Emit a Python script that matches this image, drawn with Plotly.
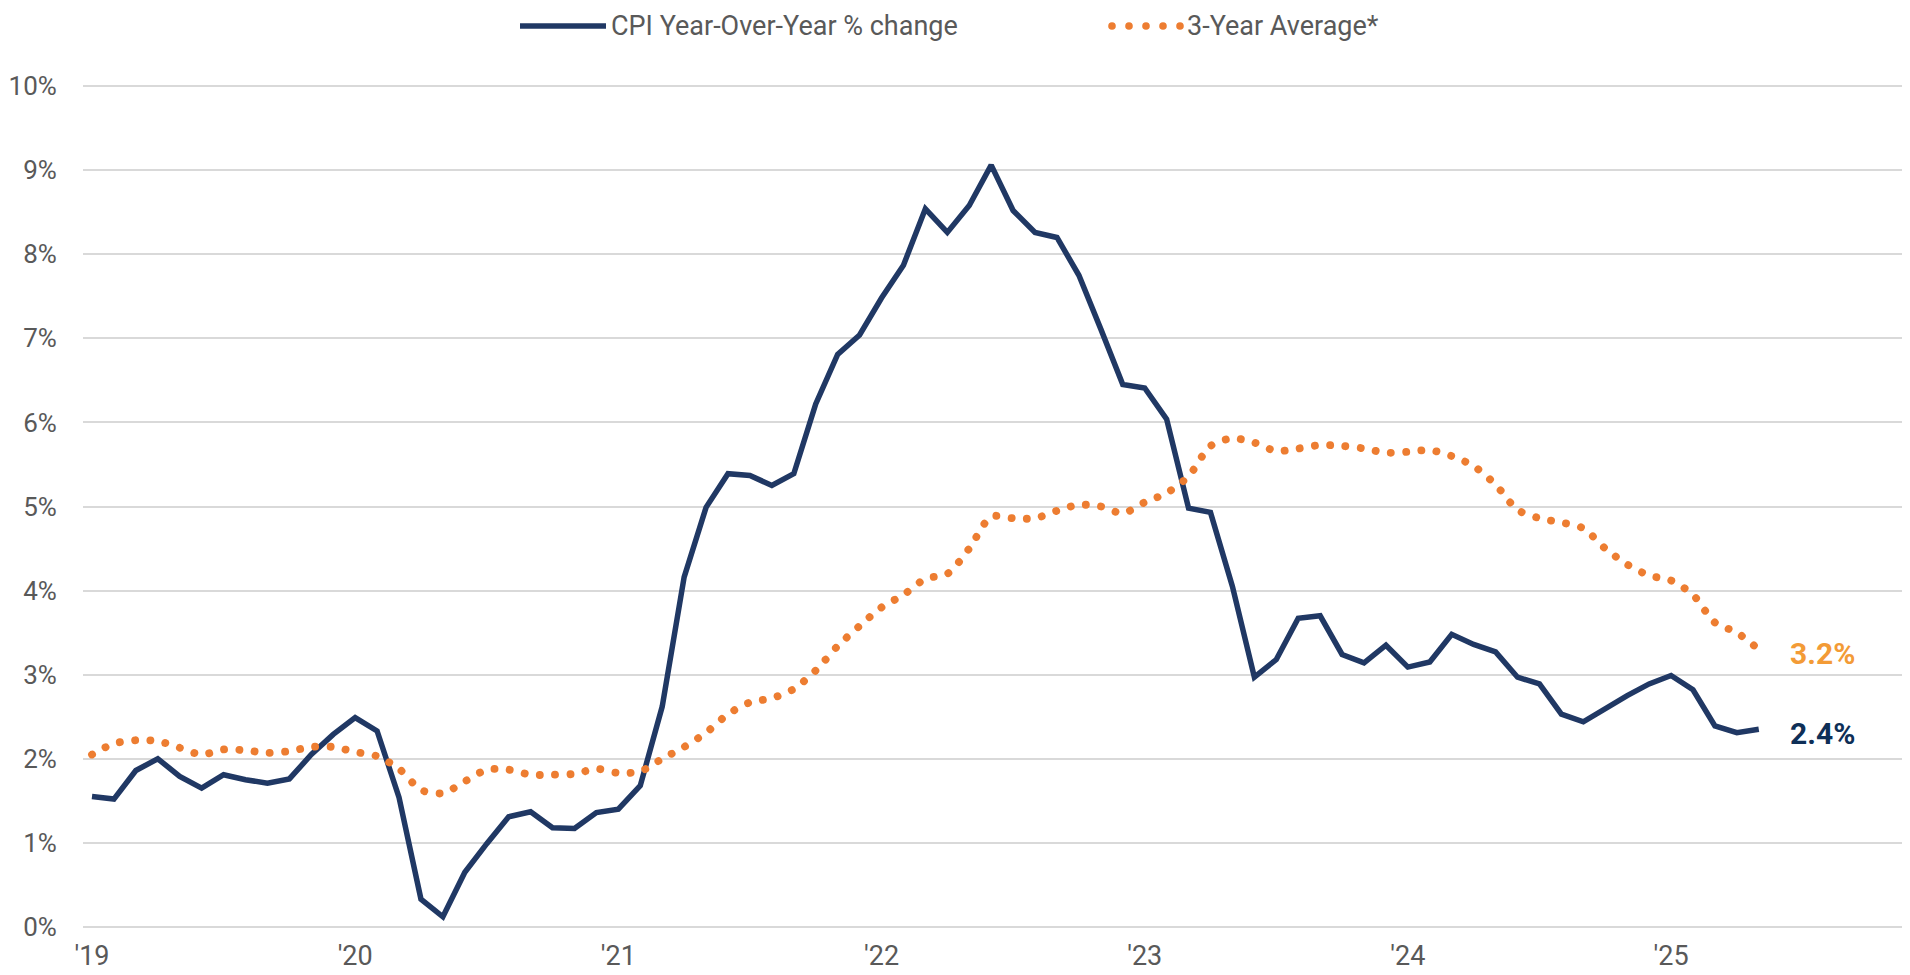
import plotly.graph_objects as go

# ---------------- data ----------------
YEAR_LABELS = ["'19", "'20", "'21", "'22", "'23", "'24", "'25"]

CPI_YOY = [
    1.55, 1.52, 1.86, 2.00, 1.79, 1.65, 1.81, 1.75, 1.71, 1.76, 2.05, 2.29,   # 2019
    2.49, 2.33, 1.54, 0.33, 0.12, 0.65, 0.99, 1.31, 1.37, 1.18, 1.17, 1.36,   # 2020
    1.40, 1.68, 2.62, 4.16, 4.99, 5.39, 5.37, 5.25, 5.39, 6.22, 6.81, 7.04,   # 2021
    7.48, 7.87, 8.54, 8.26, 8.58, 9.06, 8.52, 8.26, 8.20, 7.75, 7.11, 6.45,   # 2022
    6.41, 6.04, 4.98, 4.93, 4.05, 2.97, 3.18, 3.67, 3.70, 3.24, 3.14, 3.35,   # 2023
    3.09, 3.15, 3.48, 3.36, 3.27, 2.97, 2.89, 2.53, 2.44, 2.60, 2.75, 2.89,   # 2024
    2.99, 2.82, 2.39, 2.31, 2.35,                                             # 2025
]

AVG_3Y = [
    2.05, 2.18, 2.22, 2.21, 2.13, 2.05, 2.11, 2.10, 2.07, 2.09, 2.14, 2.14,
    2.08, 2.03, 1.88, 1.63, 1.59, 1.73, 1.87, 1.87, 1.81, 1.81, 1.82, 1.88,
    1.83, 1.85, 2.00, 2.14, 2.31, 2.53, 2.67, 2.72, 2.83, 3.05, 3.34, 3.58,
    3.80, 3.95, 4.14, 4.20, 4.50, 4.88, 4.86, 4.86, 4.95, 5.02, 5.00, 4.92,
    5.05, 5.16, 5.36, 5.72, 5.81, 5.76, 5.66, 5.69, 5.73, 5.72, 5.69, 5.64,
    5.65, 5.67, 5.60, 5.48, 5.26, 4.96, 4.86, 4.81, 4.74, 4.50, 4.31, 4.18,
    4.12, 3.95, 3.62, 3.50, 3.30,
]

SERIES_NAMES = ["CPI Year-Over-Year % change", "3-Year Average*"]
END_LABELS = ["2.4%", "3.2%"]

# ---------------- style ----------------
NAVY = "#203864"
ORANGE = "#ED7D31"
LABEL_ORANGE = "#F39B36"
LABEL_NAVY = "#0E2F57"
GREY_TXT = "#595959"
GRID = "#D9D9D9"
FONT = "Roboto, sans-serif"
FS = 27

W, H = 1910, 975
ML, MR, MT, MB = 75, 0, 76, 54
PW, PH = W - ML - MR, H - MT - MB


def px_x(px):
    return (px - ML) / PW


def px_y(py):
    return (H - MB - py) / PH


months = list(range(len(CPI_YOY)))

fig = go.Figure()
fig.add_trace(go.Scatter(
    x=months, y=CPI_YOY, mode="lines", name=SERIES_NAMES[0],
    line=dict(color=NAVY, width=5.5), showlegend=False, hoverinfo="skip",
))
fig.add_trace(go.Scatter(
    x=months[:len(AVG_3Y)], y=AVG_3Y, mode="lines", name=SERIES_NAMES[1],
    line=dict(color=ORANGE, width=7.8, dash="3px,12px", shape="spline", smoothing=0.8),
    showlegend=False, hoverinfo="skip",
))

# end-of-series value labels
fig.add_annotation(x=months[len(CPI_YOY) - 1], y=CPI_YOY[-1], text=END_LABELS[0],
                   xanchor="left", yanchor="middle", xshift=29, yshift=-4,
                   showarrow=False,
                   font=dict(family=FONT, size=30, color=LABEL_NAVY, weight="bold"))
fig.add_annotation(x=months[len(AVG_3Y) - 1], y=AVG_3Y[-1], text=END_LABELS[1],
                   xanchor="left", yanchor="middle", xshift=29, yshift=-4,
                   showarrow=False,
                   font=dict(family=FONT, size=30, color=LABEL_ORANGE, weight="bold"))

# custom legend (line sample, dot sample, texts)
legend_y = px_y(18)
fig.add_shape(type="line", xref="paper", yref="paper",
              x0=px_x(512), x1=px_x(598), y0=legend_y, y1=legend_y,
              line=dict(color=NAVY, width=5.5))
fig.add_annotation(xref="paper", yref="paper", x=px_x(601), y=legend_y,
                   text=SERIES_NAMES[0], showarrow=False, xanchor="left", yanchor="middle",
                   font=dict(family=FONT, size=FS, color=GREY_TXT))
for cx in [1104, 1121, 1138, 1155, 1172]:
    r = 3.8
    fig.add_shape(type="circle", xref="paper", yref="paper",
                  x0=px_x(cx - r), x1=px_x(cx + r), y0=px_y(18 + r), y1=px_y(18 - r),
                  fillcolor=ORANGE, line=dict(width=0))
fig.add_annotation(xref="paper", yref="paper", x=px_x(1177), y=legend_y,
                   text=SERIES_NAMES[1], showarrow=False, xanchor="left", yanchor="middle",
                   font=dict(family=FONT, size=FS, color=GREY_TXT))

fig.update_layout(
    width=W, height=H,
    margin=dict(l=ML, r=MR, t=MT, b=MB, pad=0, autoexpand=False),
    plot_bgcolor="white", paper_bgcolor="white",
    font=dict(family=FONT, size=FS, color=GREY_TXT),
    showlegend=False,
    xaxis=dict(
        range=[-0.41, 83.26], automargin=False,
        tickmode="array",
        tickvals=[12 * i for i in range(len(YEAR_LABELS))],
        ticktext=YEAR_LABELS,
        showgrid=False, zeroline=False, showline=False,
        ticks="outside", ticklen=3, tickcolor="rgba(0,0,0,0)",
        tickfont=dict(family=FONT, size=FS, color=GREY_TXT),
    ),
    yaxis=dict(
        range=[-0.025, 10.025], automargin=False,
        dtick=1, tick0=0, ticksuffix="%",
        showgrid=True, gridcolor=GRID, gridwidth=2,
        zeroline=False, showline=False,
        ticks="outside", ticklen=20, tickcolor="rgba(0,0,0,0)",
        tickfont=dict(family=FONT, size=26, color=GREY_TXT),
    ),
)

post = """
var gd = document.getElementById('{plot_id}');
var traces = gd.querySelectorAll('.scatterlayer .trace');
if (traces.length > 1) {
  traces[1].querySelectorAll('path.js-line').forEach(function(p){
    p.style.strokeLinecap = 'round';
    p.style.strokeDasharray = '0.1px,15.2px';
  });
}
"""

fig.write_html("out.html", post_script=post)
